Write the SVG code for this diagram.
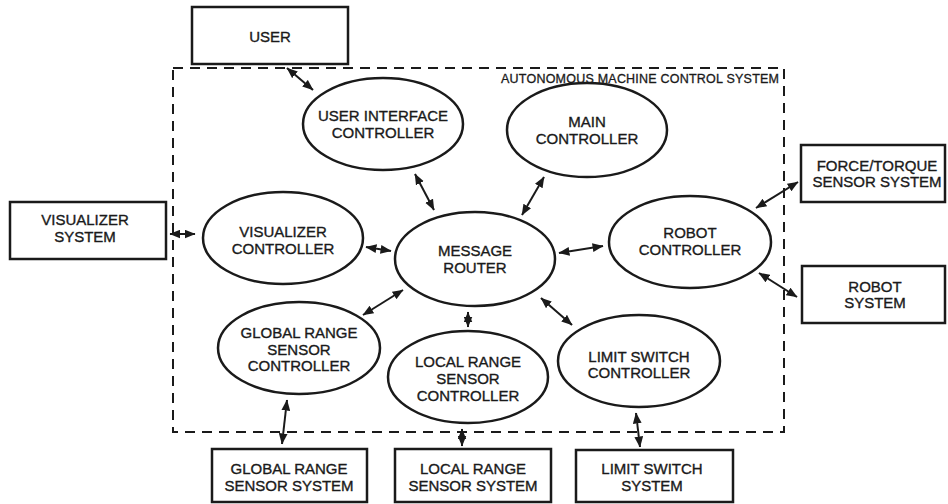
<svg xmlns="http://www.w3.org/2000/svg" width="948" height="504" viewBox="0 0 948 504">
<style>
  .box{fill:#fff;stroke:#1a1a1a;stroke-width:2.5}
  .ell{fill:#fff;stroke:#1a1a1a;stroke-width:2.5}
  .t{font-family:"Liberation Sans",Arial,sans-serif;font-size:15px;fill:#1a1a1a;stroke:#1a1a1a;stroke-width:0.35;text-anchor:middle}
  .lbl{font-family:"Liberation Sans",Arial,sans-serif;font-size:12.5px;fill:#1a1a1a;stroke:#1a1a1a;stroke-width:0.3}
  .c{stroke:#1a1a1a;stroke-width:2;fill:none;marker-start:url(#ah);marker-end:url(#ah)}
  .border{fill:none;stroke:#1a1a1a;stroke-width:2;stroke-dasharray:10 7}
</style>
<defs>
  <marker id="ah" viewBox="0 0 10 8" refX="9.5" refY="4" markerWidth="11" markerHeight="9" markerUnits="userSpaceOnUse" orient="auto-start-reverse">
    <path d="M0,0 L10,4 L0,8 z" fill="#1a1a1a"/>
  </marker>
</defs>
<rect fill="#fff" width="948" height="504"/>
<g id="system-boundary">
  <rect class="border" x="173" y="68" width="611" height="364"/>
  <text class="lbl" x="501" y="83" textLength="278" lengthAdjust="spacing">AUTONOMOUS MACHINE CONTROL SYSTEM</text>
</g>
<g id="connectors">
  <line class="c" x1="287" y1="68" x2="313" y2="90"/>
  <line class="c" x1="170" y1="234" x2="195" y2="234"/>
  <line class="c" x1="366" y1="247" x2="391" y2="251"/>
  <line class="c" x1="415" y1="174" x2="434" y2="210"/>
  <line class="c" x1="544" y1="177" x2="522" y2="215"/>
  <line class="c" x1="559" y1="253" x2="603" y2="246"/>
  <line class="c" x1="541" y1="298" x2="572" y2="325"/>
  <line class="c" x1="468" y1="312" x2="468" y2="327"/>
  <line class="c" x1="363" y1="315" x2="403" y2="290"/>
  <line class="c" x1="756" y1="208" x2="798" y2="182"/>
  <line class="c" x1="759" y1="273" x2="797" y2="297"/>
  <line class="c" x1="287" y1="400" x2="282" y2="444"/>
  <line class="c" x1="462" y1="429" x2="462" y2="446"/>
  <line class="c" x1="636" y1="413" x2="640" y2="447"/>
</g>
<g id="user">
  <rect class="box" x="192" y="7" width="156" height="57"/>
  <text class="t" x="270" y="42">USER</text>
</g>
<g id="user-interface-controller">
  <ellipse class="ell" cx="383" cy="124" rx="80" ry="46"/>
  <text class="t" x="383" y="121" textLength="130" lengthAdjust="spacingAndGlyphs">USER INTERFACE</text>
  <text class="t" x="383" y="138">CONTROLLER</text>
</g>
<g id="main-controller">
  <ellipse class="ell" cx="587" cy="130" rx="80" ry="47"/>
  <text class="t" x="587" y="127">MAIN</text>
  <text class="t" x="587" y="144">CONTROLLER</text>
</g>
<g id="visualizer-system">
  <rect class="box" x="10" y="202" width="156" height="57"/>
  <text class="t" x="85" y="225">VISUALIZER</text>
  <text class="t" x="85" y="242">SYSTEM</text>
</g>
<g id="visualizer-controller">
  <ellipse class="ell" cx="283" cy="238" rx="80" ry="46"/>
  <text class="t" x="283" y="237">VISUALIZER</text>
  <text class="t" x="283" y="254">CONTROLLER</text>
</g>
<g id="message-router">
  <ellipse class="ell" cx="475" cy="259" rx="80" ry="47"/>
  <text class="t" x="475" y="256">MESSAGE</text>
  <text class="t" x="475" y="273">ROUTER</text>
</g>
<g id="robot-controller">
  <ellipse class="ell" cx="690" cy="242" rx="81" ry="46"/>
  <text class="t" x="690" y="238">ROBOT</text>
  <text class="t" x="690" y="255">CONTROLLER</text>
</g>
<g id="force-torque-sensor-system">
  <rect class="box" x="801" y="145" width="144" height="57"/>
  <text class="t" x="877" y="171">FORCE/TORQUE</text>
  <text class="t" x="877" y="187">SENSOR SYSTEM</text>
</g>
<g id="robot-system">
  <rect class="box" x="802" y="266" width="143" height="57"/>
  <text class="t" x="875" y="292">ROBOT</text>
  <text class="t" x="875" y="308">SYSTEM</text>
</g>
<g id="global-range-sensor-controller">
  <ellipse class="ell" cx="299" cy="348" rx="81" ry="46"/>
  <text class="t" x="299" y="338">GLOBAL RANGE</text>
  <text class="t" x="299" y="355">SENSOR</text>
  <text class="t" x="299" y="371">CONTROLLER</text>
</g>
<g id="local-range-sensor-controller">
  <ellipse class="ell" cx="468" cy="377" rx="80" ry="46"/>
  <text class="t" x="468" y="367">LOCAL RANGE</text>
  <text class="t" x="468" y="384">SENSOR</text>
  <text class="t" x="468" y="401">CONTROLLER</text>
</g>
<g id="limit-switch-controller">
  <ellipse class="ell" cx="639" cy="361" rx="81" ry="46"/>
  <text class="t" x="639" y="362">LIMIT SWITCH</text>
  <text class="t" x="639" y="378">CONTROLLER</text>
</g>
<g id="global-range-sensor-system">
  <rect class="box" x="212" y="449" width="155" height="53"/>
  <text class="t" x="289" y="474">GLOBAL RANGE</text>
  <text class="t" x="289" y="491">SENSOR SYSTEM</text>
</g>
<g id="local-range-sensor-system">
  <rect class="box" x="395" y="449" width="156" height="53"/>
  <text class="t" x="473" y="474">LOCAL RANGE</text>
  <text class="t" x="473" y="491">SENSOR SYSTEM</text>
</g>
<g id="limit-switch-system">
  <rect class="box" x="576" y="450" width="157" height="52"/>
  <text class="t" x="652" y="474">LIMIT SWITCH</text>
  <text class="t" x="652" y="491">SYSTEM</text>
</g>
</svg>
